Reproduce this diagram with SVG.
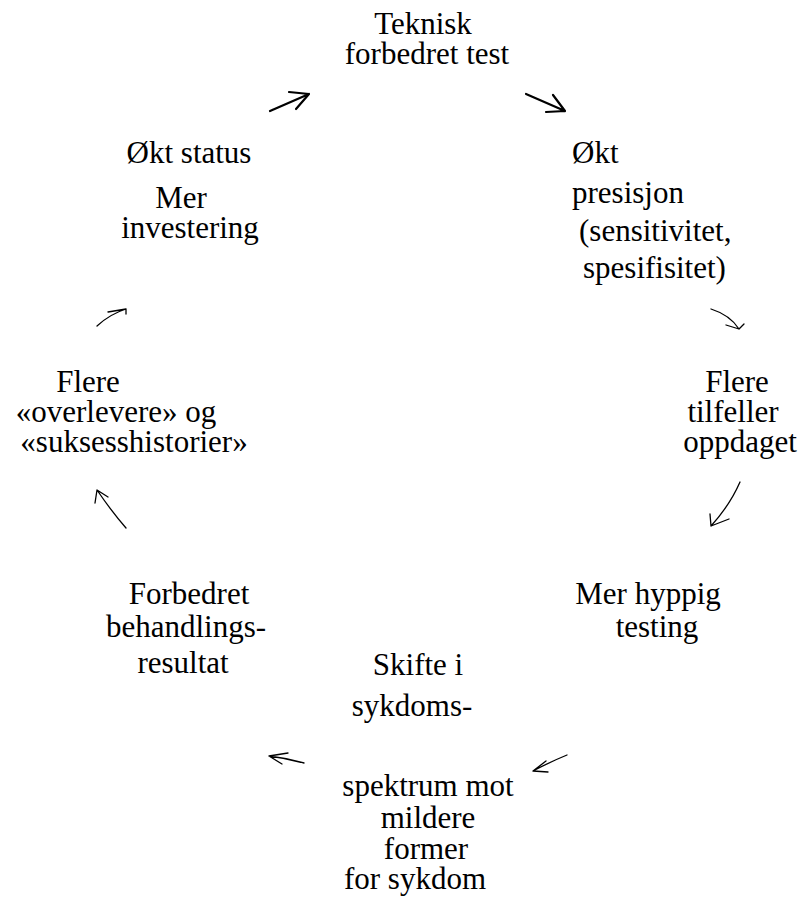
<svg xmlns="http://www.w3.org/2000/svg" width="804" height="899" viewBox="0 0 804 899">
<style>
text{font-family:'Liberation Serif','DejaVu Serif',serif;font-size:31px;fill:#000;text-anchor:middle}
.l{text-anchor:start}
.a{fill:none;stroke:#000;stroke-linecap:round;stroke-linejoin:round}
.t{stroke-width:2.2}
.n{stroke-width:1.3}
</style>
<rect width="804" height="899" fill="#fff"/>
<g id="n1"><text x="423" y="34">Teknisk</text><text x="427" y="64">forbedret test</text></g>
<g id="n2"><text class="l" x="572" y="163">Økt</text><text class="l" x="572" y="203">presisjon</text><text class="l" x="579" y="241">(sensitivitet,</text><text class="l" x="583" y="278">spesifisitet)</text></g>
<g id="n3"><text x="737" y="392">Flere</text><text x="733" y="422">tilfeller</text><text x="740" y="452">oppdaget</text></g>
<g id="n4"><text x="648" y="604">Mer hyppig</text><text x="657" y="637">testing</text></g>
<g id="n5"><text x="418" y="675">Skifte i</text><text x="412" y="716">sykdoms-</text><text x="428" y="796">spektrum mot</text><text x="428" y="828">mildere</text><text x="426" y="859">former</text><text x="415" y="889">for sykdom</text></g>
<g id="n6"><text x="189" y="604">Forbedret</text><text x="186" y="637">behandlings-</text><text x="183" y="673">resultat</text></g>
<g id="n7"><text x="88" y="392">Flere</text><text x="116" y="422">«overlevere» og</text><text x="134" y="452">«suksesshistorier»</text></g>
<g id="n8"><text x="189" y="163">Økt status</text><text x="181" y="208">Mer</text><text x="190" y="238">investering</text></g>
<g id="connectors">
<path class="a t" d="M270,111 L309,94 M289,92 L309,94 L296,109"/>
<path class="a t" d="M526,94 L565,111 M553,95 L565,111 L546,112"/>
<path class="a n" d="M711,309 Q730,315 739,329 M726,325 L739,329 L744,324"/>
<path class="a n" d="M740,482 Q730,505 711,526 M710,514 L711,526 L729,519"/>
<path class="a n" d="M567,755 Q550,762 533,771 M546,761 L533,771 L548,772"/>
<path class="a n" d="M304,763 Q286,758 269,756 M288,753 L269,756 L282,764"/>
<path class="a n" d="M126,528 Q112,512 97,490 M95,503 L97,490 L108,497"/>
<path class="a n" d="M97,326 Q110,314 126,309 M108,312 L126,309 L126,314"/>
</g>
</svg>
